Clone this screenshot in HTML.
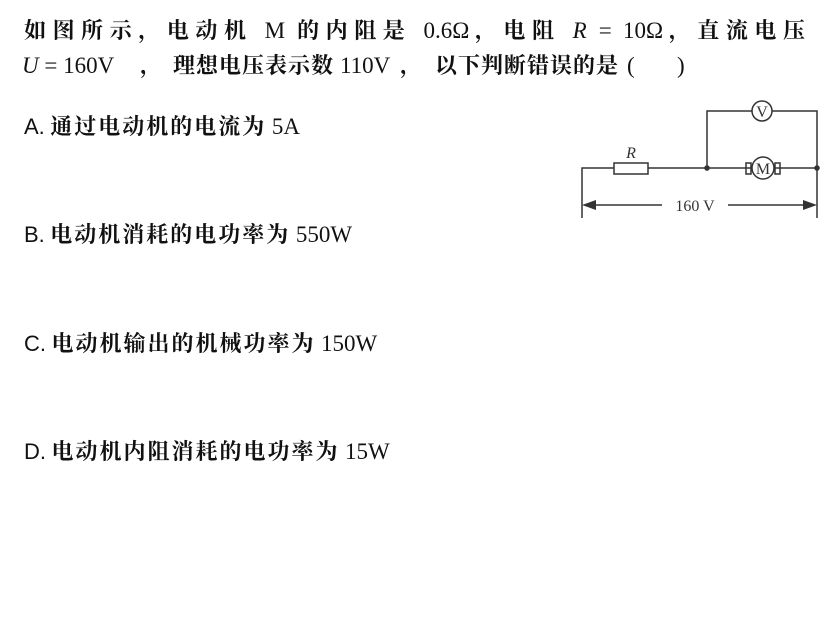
<!DOCTYPE html>
<html><head><meta charset="utf-8"><style>
body{margin:0;width:840px;height:626px;background:#fff;position:relative;overflow:hidden;font-family:"Liberation Serif","Noto Serif CJK SC",serif;color:#111}
.t{position:absolute;font-size:22px;white-space:nowrap;line-height:1}
.c{font-weight:bold;letter-spacing:1px}
.o .c{letter-spacing:2px}
.l1{left:24px;width:782px;text-align:justify;text-align-last:justify;white-space:normal}
.n{font-weight:normal;letter-spacing:0;font-size:23px}
.s{font-family:"Liberation Sans",sans-serif}
i{font-family:"Liberation Serif",serif}
</style></head><body>
<div class="t c l1" style="top:19px">如图所示，电动机 <span class="n">M</span> 的内阻是 <span class="n">0.6Ω</span>，电阻 <i class="n">R</i> <span class="n">= 10Ω</span>，直流电压</div>
<div class="t n" style="top:54px;left:22px"><i>U</i> = 160V</div>
<div class="t c" style="top:55px;left:140px">，</div>
<div class="t c" style="top:55px;left:173px">理想电压表示数</div>
<div class="t n" style="top:54px;left:340px">110V</div>
<div class="t c" style="top:55px;left:400px">，</div>
<div class="t c" style="top:55px;left:435px">以下判断错误的是</div>
<div class="t n" style="top:54px;left:627px">(</div>
<div class="t n" style="top:54px;left:677px">)</div>
<div class="t o" style="top:115px;left:24px"><span class="s">A.</span> <span class="c">通过电动机的电流为</span> <span class="n">5A</span></div>
<div class="t o" style="top:223px;left:24px"><span class="s">B.</span> <span class="c">电动机消耗的电功率为</span> <span class="n">550W</span></div>
<div class="t o" style="top:332px;left:24px"><span class="s">C.</span> <span class="c">电动机输出的机械功率为</span> <span class="n">150W</span></div>
<div class="t o" style="top:440px;left:24px"><span class="s">D.</span> <span class="c">电动机内阻消耗的电功率为</span> <span class="n">15W</span></div>
<svg width="840" height="626" style="position:absolute;left:0;top:0" fill="none" stroke="#333" stroke-width="1.5">
<path d="M582 218V168H614M648 168H751M775 168H817M707 168V111H752M772 111H817V218"/>
<rect x="614" y="163" width="34" height="11"/>
<circle cx="762" cy="111" r="10"/>
<circle cx="763" cy="168" r="11"/>
<rect x="746" y="163" width="5" height="11"/><rect x="775" y="163" width="5" height="11"/>
<circle cx="707" cy="168" r="2" fill="#333"/><circle cx="817" cy="168" r="2" fill="#333"/>
<path d="M586 205H662M728 205H813"/>
<path d="M582 205l14-5v10z M817 205l-14-5v10z" fill="#333" stroke="none"/>
<g fill="#333" stroke="none" font-family="Liberation Serif,serif" font-size="16">
<text x="631" y="158" text-anchor="middle" font-style="italic">R</text>
<text x="762" y="117" text-anchor="middle">V</text>
<text x="763" y="174" text-anchor="middle">M</text>
<text x="695" y="211" text-anchor="middle">160 V</text>
</g>
</svg>
</body></html>
